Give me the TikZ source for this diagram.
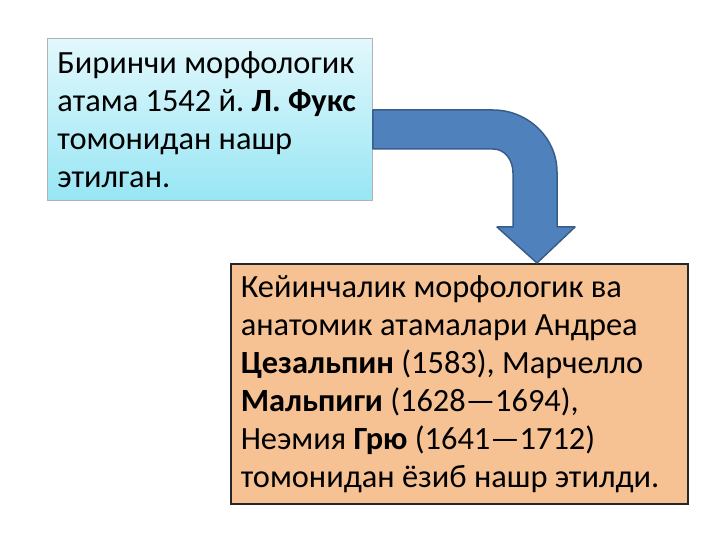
\documentclass[tikz,border=0pt]{standalone}
\usepackage{fontspec}
\setmainfont{Carlito}
\definecolor{boxcyanA}{HTML}{E2F8FC}
\definecolor{boxcyanB}{HTML}{98E6F4}
\definecolor{boxpeach}{HTML}{F6C193}
\definecolor{arrowfill}{HTML}{4F81BD}
\definecolor{arrowline}{HTML}{385D8A}
\newcommand{\txt}{\fontsize{32.4}{38}\selectfont\frenchspacing}

\begin{document}
\begin{tikzpicture}[x=1pt, y=-1pt,
    infobox/.style={rectangle, anchor=north west, align=flush left, inner xsep=10pt, inner ysep=0pt, font=\txt},
    cyanbox/.style={infobox, draw=gray!60, top color=boxcyanA, bottom color=boxcyanB, line width=0.8pt},
    peachbox/.style={infobox, draw=black!85, fill=boxpeach, line width=1.5pt},
    blockarrow/.style={fill=arrowfill, draw=arrowline, line width=1.5pt, line join=round}]
    \useasboundingbox (0,0) rectangle (720,540);

    % Boxes
    \node[cyanbox, minimum width=325pt, minimum height=162pt, text width=305pt] (fuks) at (47,38)
        {Биринчи морфологик\\атама 1542 й. \textbf{Л. Фукс}\\томонидан нашр\\этилган.};
    \node[peachbox, minimum width=457pt, minimum height=240pt, text width=437pt] (later) at (230,263)
        {Кейинчалик морфологик ва\\анатомик атамалари Андреа\\\textbf{Цезальпин} (1583), Марчелло\\\textbf{Мальпиги} (1628—1694),\\Неэмия \textbf{Грю} (1641—1712)\\томонидан ёзиб нашр этилди.};

    % Bent arrow
    \coordinate (tip) at (537,263);
    \draw[blockarrow] (fuks.east |- 0,110) -- (493,110)
        .. controls (528,110) and (557,138) .. (557,172) -- (557,227) -- (575,227)
        -- (tip) -- (497,227) -- (513,227) -- (513,173)
        .. controls (513,160) and (505,149) .. (493,149) -- (fuks.east |- 0,149) -- cycle;

\end{tikzpicture}
\end{document}
